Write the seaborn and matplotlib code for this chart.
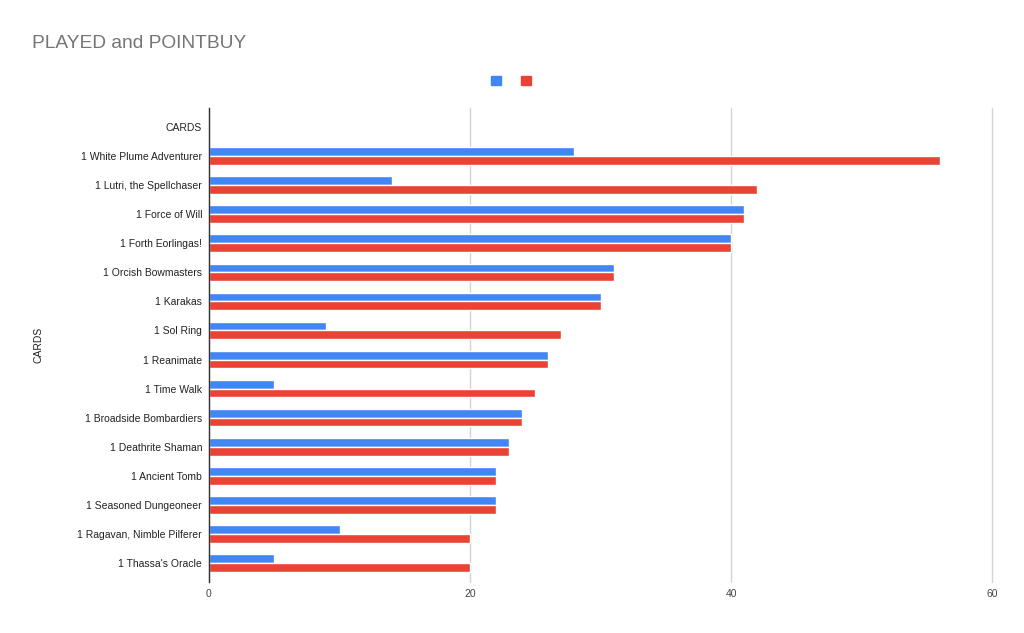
import matplotlib
matplotlib.use("Agg")
import matplotlib.pyplot as plt
import matplotlib.patches as mpatches
import seaborn as sns
import pandas as pd

categories = ["CARDS", "1 White Plume Adventurer", "1 Lutri, the Spellchaser", "1 Force of Will",
              "1 Forth Eorlingas!", "1 Orcish Bowmasters", "1 Karakas", "1 Sol Ring", "1 Reanimate",
              "1 Time Walk", "1 Broadside Bombardiers", "1 Deathrite Shaman", "1 Ancient Tomb",
              "1 Seasoned Dungeoneer", "1 Ragavan, Nimble Pilferer", "1 Thassa's Oracle"]
played = [None, 28, 14, 41, 40, 31, 30, 9, 26, 5, 24, 23, 22, 22, 10, 5]
pointbuy = [None, 56, 42, 41, 40, 31, 30, 27, 26, 25, 24, 23, 22, 22, 20, 20]
series_names = ["PLAYED", "POINTBUY"]
colors = ["#4285f4", "#ea4335"]
x_ticks = [0, 20, 40, 60]

rows = []
for c, p, q in zip(categories, played, pointbuy):
    if p is not None:
        rows.append({"card": c, "series": series_names[0], "value": p})
    if q is not None:
        rows.append({"card": c, "series": series_names[1], "value": q})
df = pd.DataFrame(rows)

sns.set_theme(style="white")
plt.rcParams["font.family"] = ["Liberation Sans", "DejaVu Sans"]

fig = plt.figure(figsize=(10.24, 6.33), dpi=100)
ax = fig.add_axes([209/1024, 1 - 582/633, (992-209)/1024, (582-108)/633])

sns.barplot(data=df, y="card", x="value", hue="series", order=categories,
            hue_order=series_names, palette=colors, orient="h", width=0.6,
            ax=ax, legend=False, errorbar=None, saturation=1)

ax.set_xlim(0, 60)
ax.set_ylim(len(categories) - 1 + 0.65, -0.65)
ax.set_xticks(x_ticks)
ax.set_xticklabels([str(t) for t in x_ticks], fontsize=7.5, color="#444444")
ax.tick_params(axis="y", labelsize=7.5, colors="#222222", length=0, pad=5)
ax.tick_params(axis="x", length=0, pad=5)
ax.grid(axis="x", color="#d4d4d4", linewidth=1.0)
for gl in ax.get_xgridlines():
    gl.set_clip_on(False)
ax.set_axisbelow(True)
for s in ["top", "right", "bottom"]:
    ax.spines[s].set_visible(False)
ax.spines["left"].set_color("#333333")
ax.spines["left"].set_linewidth(1.0)
ax.set_xlabel("")
ax.set_ylabel("CARDS", fontsize=7.5, color="#222222")
ax.yaxis.set_label_coords((44 - 209) / (992 - 209), 0.5)

fig.text(32/1024, 1 - 44/633, "PLAYED and POINTBUY", fontsize=13.8, color="#757575", va="center", ha="left")

handles = [mpatches.Patch(color=colors[0], label=" "), mpatches.Patch(color=colors[1], label=" ")]
fig.legend(handles=handles, loc="center", bbox_to_anchor=(514/1024, 1 - 81/633), ncol=2,
           frameon=False, handlelength=0.9, handleheight=0.9, handletextpad=0.2, columnspacing=1.3,
           fontsize=8)

fig.savefig("out.png", dpi=100, facecolor="white")
